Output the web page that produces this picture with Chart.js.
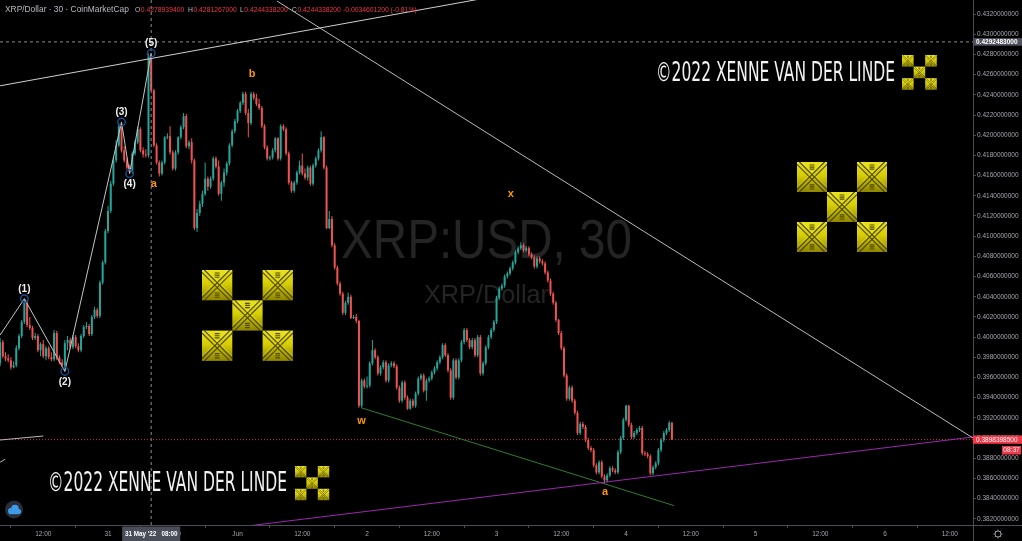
<!DOCTYPE html>
<html><head><meta charset="utf-8">
<script src="https://cdn.jsdelivr.net/npm/chart.js@4.4.0/dist/chart.umd.min.js"></script>
<style>html,body{margin:0;padding:0;background:#000;overflow:hidden}</style>
</head><body><canvas id="c" width="1022" height="541"></canvas>
<script>
// ---------- data (30-minute candles from 30 May 04:00) ----------
const opens = [
0.3974,0.3995,0.3981,0.3979,0.3977,0.3970,0.3972,0.3989,0.4001,0.4015,
0.4034,0.4012,0.4009,0.3999,0.4001,0.3987,0.3993,0.3981,0.3989,0.3980,
0.3978,0.4004,0.3980,0.3975,0.3972,0.3994,0.3997,0.3990,0.4000,0.3991,
0.3987,0.4001,0.4010,0.4011,0.4003,0.4020,0.4027,0.4021,0.4054,0.4074,
0.4105,0.4125,0.4152,0.4175,0.4190,0.4209,0.4185,0.4175,0.4168,0.4164,
0.4182,0.4193,0.4206,0.4185,0.4181,0.4180,0.42789394,0.42443382,0.4190,0.4173,
0.4162,0.4173,0.4198,0.4199,0.4183,0.4167,0.4183,0.4198,0.4208,0.4219,
0.4189,0.4193,0.4175,0.4108,0.4123,0.4132,0.4142,0.4157,0.4149,0.4157,
0.4177,0.4169,0.4142,0.4153,0.4163,0.4172,0.4190,0.4204,0.4214,0.4224,
0.4232,0.4241,0.4222,0.4212,0.4241,0.4237,0.4231,0.4227,0.4209,0.4188,
0.4177,0.4178,0.4185,0.4197,0.4177,0.4209,0.4206,0.4182,0.4153,0.4145,
0.4153,0.4163,0.4170,0.4162,0.4158,0.4168,0.4152,0.4170,0.4177,0.4185,
0.4198,0.4168,0.4108,0.4117,0.4091,0.4069,0.4053,0.4043,0.4024,0.4034,
0.4040,0.4019,0.4020,0.4016,0.3932,0.3957,0.3951,0.3952,0.3974,0.3987,
0.3980,0.3964,0.3970,0.3975,0.3957,0.3972,0.3974,0.3971,0.3950,0.3937,
0.3955,0.3940,0.3929,0.3937,0.3932,0.3944,0.3959,0.3962,0.3947,0.3957,
0.3959,0.3965,0.3969,0.3975,0.3980,0.3992,0.3982,0.3967,0.3940,0.3977,
0.3960,0.3977,0.3995,0.4007,0.3997,0.3990,0.3997,0.3982,0.4000,0.3964,
0.3974,0.3990,0.4000,0.4007,0.4015,0.4039,0.4048,0.4051,0.4060,0.4063,
0.4068,0.4074,0.4084,0.4088,0.4091,0.4086,0.4088,0.4082,0.4079,0.4070,
0.4078,0.4075,0.4073,0.4064,0.4056,0.4043,0.4034,0.4017,0.4004,0.3989,
0.3962,0.3939,0.3950,0.3937,0.3925,0.3905,0.3914,0.3911,0.3898,0.3890,
0.3888,0.3873,0.3866,0.3876,0.3862,0.3858,0.3863,0.3870,0.3868,0.3866,
0.3886,0.3900,0.3918,0.3932,0.3913,0.3901,0.3905,0.3908,0.3910,0.3885,
0.3884,0.3882,0.3865,0.3871,0.3875,0.3888,0.3898,0.3905,0.3908,0.3915];
const highs = [
0.3999,0.3997,0.3985,0.3983,0.3980,0.3976,0.3992,0.4003,0.4017,0.4038,
0.4036,0.4020,0.4011,0.4004,0.4003,0.3995,0.3997,0.3991,0.3991,0.3985,
0.4007,0.4006,0.3982,0.3978,0.3997,0.4001,0.3999,0.4002,0.4002,0.3994,
0.4003,0.4012,0.4015,0.4013,0.4022,0.4030,0.4029,0.4056,0.4076,0.4107,
0.4130,0.4155,0.4178,0.4195,0.4212,0.4213,0.4189,0.4178,0.4171,0.4184,
0.4195,0.4209,0.4208,0.4188,0.4186,0.4281,0.4281267,0.4246,0.4192,0.4175,
0.4175,0.4199,0.4202,0.4209,0.4185,0.4185,0.4199,0.4210,0.4222,0.4221,
0.4195,0.4197,0.4177,0.4127,0.4135,0.4145,0.4173,0.4159,0.4159,0.4179,
0.4179,0.4175,0.4155,0.4167,0.4174,0.4192,0.4206,0.4216,0.4226,0.4234,
0.4243,0.4243,0.4226,0.4243,0.4243,0.4241,0.4236,0.4229,0.4211,0.4190,
0.4180,0.4187,0.4198,0.4198,0.4211,0.4211,0.4208,0.4184,0.4155,0.4155,
0.4165,0.4175,0.4182,0.4167,0.4170,0.4170,0.4172,0.4179,0.4187,0.4204,
0.4199,0.4170,0.4125,0.4120,0.4093,0.4071,0.4055,0.4045,0.4036,0.4044,
0.4042,0.4022,0.4023,0.4017,0.3959,0.3959,0.3961,0.3976,0.3997,0.3989,
0.3982,0.3972,0.3977,0.3977,0.3974,0.3976,0.3976,0.3973,0.3952,0.3957,
0.3957,0.3942,0.3939,0.3939,0.3946,0.3961,0.3964,0.3964,0.3959,0.3961,
0.3967,0.3971,0.3977,0.3982,0.3994,0.3994,0.3984,0.3969,0.3979,0.3979,
0.3979,0.3997,0.4009,0.4009,0.3999,0.3999,0.3999,0.4002,0.4002,0.3976,
0.3992,0.4002,0.4009,0.4017,0.4041,0.4050,0.4053,0.4062,0.4065,0.4070,
0.4076,0.4086,0.4090,0.4094,0.4093,0.4090,0.4090,0.4084,0.4081,0.4080,
0.4080,0.4077,0.4075,0.4066,0.4058,0.4045,0.4036,0.4018,0.4006,0.3991,
0.3964,0.3952,0.3952,0.3939,0.3927,0.3916,0.3916,0.3913,0.3900,0.3892,
0.3890,0.3875,0.3878,0.3878,0.3864,0.3865,0.3872,0.3872,0.3870,0.3888,
0.3902,0.3920,0.3933,0.3933,0.3915,0.3907,0.3910,0.3912,0.3912,0.3887,
0.3886,0.3884,0.3873,0.3877,0.3890,0.3900,0.3907,0.3910,0.3917,0.3916];
const lows = [
0.3971,0.3979,0.3976,0.3975,0.3968,0.3969,0.3970,0.3987,0.3999,0.4013,
0.4010,0.4007,0.3997,0.3997,0.3985,0.3981,0.3979,0.3977,0.3978,0.3976,
0.3976,0.3977,0.3973,0.3970,0.3966,0.3987,0.3988,0.3988,0.3989,0.3985,
0.3985,0.3999,0.4008,0.4001,0.4001,0.4018,0.4019,0.4019,0.4052,0.4072,
0.4103,0.4123,0.4150,0.4173,0.4188,0.4183,0.4173,0.4166,0.4162,0.4162,
0.4180,0.4191,0.4183,0.4178,0.4178,0.4178,0.42443382,0.4188,0.4171,0.4159,
0.4160,0.4171,0.4196,0.4181,0.4165,0.4165,0.4181,0.4196,0.4206,0.4187,
0.4186,0.4172,0.4106,0.4104,0.4120,0.4129,0.4140,0.4145,0.4147,0.4155,
0.4167,0.4140,0.4135,0.4149,0.4160,0.4170,0.4188,0.4202,0.4212,0.4222,
0.4230,0.4220,0.4198,0.4210,0.4235,0.4229,0.4225,0.4207,0.4186,0.4175,
0.4175,0.4176,0.4183,0.4175,0.4175,0.4204,0.4180,0.4151,0.4143,0.4143,
0.4151,0.4161,0.4160,0.4156,0.4155,0.4150,0.4150,0.4168,0.4175,0.4183,
0.4166,0.4107,0.4107,0.4089,0.4067,0.4051,0.4041,0.4022,0.4022,0.4032,
0.4018,0.4018,0.4014,0.3930,0.3930,0.3949,0.3949,0.3950,0.3972,0.3978,
0.3962,0.3962,0.3968,0.3955,0.3955,0.3970,0.3969,0.3948,0.3935,0.3935,
0.3938,0.3928,0.3928,0.3930,0.3930,0.3942,0.3957,0.3945,0.3937,0.3955,
0.3957,0.3963,0.3967,0.3973,0.3978,0.3980,0.3965,0.3938,0.3938,0.3958,
0.3958,0.3975,0.3993,0.3995,0.3988,0.3988,0.3980,0.3980,0.3962,0.3962,
0.3972,0.3988,0.3998,0.4005,0.4013,0.4037,0.4046,0.4049,0.4058,0.4061,
0.4066,0.4072,0.4082,0.4086,0.4084,0.4084,0.4080,0.4077,0.4068,0.4068,
0.4073,0.4071,0.4062,0.4054,0.4041,0.4032,0.4015,0.4002,0.3987,0.3960,
0.3937,0.3937,0.3935,0.3923,0.3903,0.3903,0.3909,0.3896,0.3888,0.3886,
0.3871,0.3864,0.3864,0.3860,0.3855,0.3856,0.3861,0.3866,0.3864,0.3864,
0.3884,0.3898,0.3916,0.3911,0.3899,0.3899,0.3903,0.3906,0.3883,0.3882,
0.3880,0.3863,0.3863,0.3869,0.3873,0.3886,0.3896,0.3903,0.3906,0.3898];
const closes = [
0.3995,0.3981,0.3979,0.3977,0.3970,0.3972,0.3989,0.4001,0.4015,0.4034,
0.4012,0.4009,0.3999,0.4001,0.3987,0.3993,0.3981,0.3989,0.3980,0.3978,
0.4004,0.3980,0.3975,0.3972,0.3994,0.3997,0.3990,0.4000,0.3991,0.3987,
0.4001,0.4010,0.4011,0.4003,0.4020,0.4027,0.4021,0.4054,0.4074,0.4105,
0.4125,0.4152,0.4175,0.4190,0.4209,0.4185,0.4175,0.4168,0.4164,0.4182,
0.4193,0.4206,0.4185,0.4181,0.4180,0.4279,0.42443382,0.4190,0.4173,0.4162,
0.4173,0.4198,0.4199,0.4183,0.4167,0.4183,0.4198,0.4208,0.4219,0.4189,
0.4193,0.4175,0.4108,0.4123,0.4132,0.4142,0.4157,0.4149,0.4157,0.4177,
0.4169,0.4142,0.4153,0.4163,0.4172,0.4190,0.4204,0.4214,0.4224,0.4232,
0.4241,0.4222,0.4212,0.4241,0.4237,0.4231,0.4227,0.4209,0.4188,0.4177,
0.4178,0.4185,0.4197,0.4177,0.4209,0.4206,0.4182,0.4153,0.4145,0.4153,
0.4163,0.4170,0.4162,0.4158,0.4168,0.4152,0.4170,0.4177,0.4185,0.4198,
0.4168,0.4108,0.4117,0.4091,0.4069,0.4053,0.4043,0.4024,0.4034,0.4040,
0.4019,0.4020,0.4016,0.3932,0.3957,0.3951,0.3952,0.3974,0.3987,0.3980,
0.3964,0.3970,0.3975,0.3957,0.3972,0.3974,0.3971,0.3950,0.3937,0.3955,
0.3940,0.3929,0.3937,0.3932,0.3944,0.3959,0.3962,0.3947,0.3957,0.3959,
0.3965,0.3969,0.3975,0.3980,0.3992,0.3982,0.3967,0.3940,0.3977,0.3960,
0.3977,0.3995,0.4007,0.3997,0.3990,0.3997,0.3982,0.4000,0.3964,0.3974,
0.3990,0.4000,0.4007,0.4015,0.4039,0.4048,0.4051,0.4060,0.4063,0.4068,
0.4074,0.4084,0.4088,0.4091,0.4086,0.4088,0.4082,0.4079,0.4070,0.4078,
0.4075,0.4073,0.4064,0.4056,0.4043,0.4034,0.4017,0.4004,0.3989,0.3962,
0.3939,0.3950,0.3937,0.3925,0.3905,0.3914,0.3911,0.3898,0.3890,0.3888,
0.3873,0.3866,0.3876,0.3862,0.3858,0.3863,0.3870,0.3868,0.3866,0.3886,
0.3900,0.3918,0.3932,0.3913,0.3901,0.3905,0.3908,0.3910,0.3885,0.3884,
0.3882,0.3865,0.3871,0.3875,0.3888,0.3898,0.3905,0.3908,0.3915,0.38983985];

// time axis: slot index (30 min each); labels at these slots
const xTickSlots  = [16,40,64,88,112,136,160,184,208,232,256,280,304,328,352];
const xTickLabels = ['12:00','31','12:00','Jun','12:00','2','12:00','3','12:00','4','12:00','5','12:00','6','12:00'];
const yTickValues = [0.382,0.384,0.386,0.388,0.390,0.392,0.394,0.396,0.398,0.400,0.402,0.404,0.406,0.408,0.410,0.412,0.414,0.416,0.418,0.420,0.422,0.424,0.426,0.428,0.430,0.432];
const xMin = -0.04, xMax = 360.6, yMin = 0.38138, yMax = 0.43340;

// drawings
const waveSlots  = [0, 9, 24, 45, 48, 56];
const wavePrices = [0.4002, 0.4038, 0.3966, 0.4213, 0.4162, 0.4281267];
const waveNames  = ['', '(1)', '(2)', '(3)', '(4)', '(5)'];
const waveAbove  = [true, true, false, true, false, true];
const upperLineSlots = [0, 180],       upperLinePrices = [0.4249, 0.4336];
const fallLineSlots  = [102.6, 360.6], fallLinePrices  = [0.4333, 0.3900];
const purpleSlots    = [80, 360.6],    purplePrices    = [0.3809, 0.3901];
const greenSlots     = [133.8, 249.8], greenPrices     = [0.3930, 0.3833];
const stubASlots = [0, 16],  stubAPrices = [0.3898, 0.3902];
const stubBSlots = [0, 1.9], stubBPrices = [0.3876, 0.3879];
const letterNames  = ['a', 'b', 'x', 'w', 'a'];
const letterSlots  = [57, 93.4, 189.3, 134, 224.2];
const letterPrices = [0.41515, 0.4261, 0.4142, 0.3917, 0.3847];
const lastPrice = 0.38983985, crossPrice = 0.4292483, crossSlot = 56;
const crossTimeLabel = "31 May '22   08:00";
const countdown = '08:37';
const titleText = 'XRP/Dollar · 30 · CoinMarketCap';
const ohlcNames  = ['O', 'H', 'L', 'C'];
const ohlcTexts  = ['0.4278939400', '0.4281267000', '0.4244338200', '0.4244338200'];
const changeText = '-0.0034601200 (-0.81%)';
const watermarkMain = 'XRP:USD, 30', watermarkSub = 'XRP/Dollar';
const copyrightText = '\u00A92022 XENNE VAN DER LINDE';

// ---------- chart ----------
const TEAL = '#26a69a', RED = '#ef5350';
const FONT = '"Liberation Sans", Arial, sans-serif';
const candleColors = closes.map((c, i) => c >= opens[i] ? TEAL : RED);
const pts = (xs, ys) => xs.map((x, i) => ({x, y: ys[i]}));
const lineDS = (xs, ys, color, extra) => Object.assign({type:'line', data: pts(xs, ys), borderColor: color, borderWidth: 1,
  pointRadius: 0, tension: 0, fill: false, order: 0}, extra || {});

function fitText(c, text, x, base, size, width, align, weight, family) {
  c.font = (weight || 'normal') + ' ' + size + 'px ' + (family || FONT);
  const w = c.measureText(text).width;
  c.save(); c.translate(x, base); c.scale(width / w, 1); c.textAlign = align; c.textBaseline = 'alphabetic';
  c.fillText(text, 0, 0); c.restore();
}
function logoTile(c, x, y, s) {
  const g = c.createLinearGradient(x, y, x, y + s);
  g.addColorStop(0, '#e9e21e'); g.addColorStop(0.45, '#d6cd05'); g.addColorStop(1, '#8e8500');
  c.fillStyle = g; c.fillRect(x, y, s, s);
  c.strokeStyle = 'rgba(70,62,0,0.9)'; c.lineWidth = Math.max(0.5, s / 26);
  const o = s * 0.08;
  c.beginPath();
  c.moveTo(x + o, y); c.lineTo(x + s, y + s - o);
  c.moveTo(x, y + o); c.lineTo(x + s - o, y + s);
  c.moveTo(x + s - o, y); c.lineTo(x, y + s - o);
  c.moveTo(x + s, y + o); c.lineTo(x + o, y + s);
  for (let k = 0; k < 3; k++) {
    const a = y + s * 0.1 + k * s * 0.07, b = y + s * 0.76 + k * s * 0.07;
    c.moveTo(x + s * 0.42, a); c.lineTo(x + s * 0.58, a);
    c.moveTo(x + s * 0.42, b); c.lineTo(x + s * 0.58, b);
  }
  c.stroke();
  c.strokeStyle = 'rgba(255,250,150,0.45)'; c.lineWidth = 0.6;
  c.beginPath(); c.moveTo(x + o * 2, y); c.lineTo(x + s, y + s - o * 2); c.moveTo(x + s - o * 2, y); c.lineTo(x, y + s - o * 2); c.stroke();
}
function logo(c, x, y, s) {
  [[0,0],[2,0],[1,1],[0,2],[2,2]].forEach(([i, j]) => logoTile(c, x + i * s, y + j * s, s));
}

const deco = {
  id: 'deco',
  beforeDraw(chart) {
    const c = chart.ctx; c.save(); c.fillStyle = '#000'; c.fillRect(0, 0, chart.width, chart.height); c.restore();
  },
  beforeDatasetsDraw(chart) {
    const c = chart.ctx, a = chart.chartArea, cx = (a.left + a.right) / 2;
    c.save(); c.fillStyle = '#242424';
    fitText(c, watermarkMain, cx, 257.5, 56, 291, 'center');
    fitText(c, watermarkSub, cx, 302.5, 25.5, 125, 'center');
    c.restore();
  },
  afterDatasetsDraw(chart) {
    const c = chart.ctx, xs = chart.scales.x, ys = chart.scales.y;
    c.save();
    // logos
    logo(c, 797, 162, 30); logo(c, 202, 270, 30.3); logo(c, 902, 55, 11.6); logo(c, 295, 466, 11.4);
    // copyright texts
    c.fillStyle = '#f2f2f2';
    fitText(c, copyrightText, 656, 80.5, 27, 239, 'left', 'normal', '"Liberation Sans Narrow","DejaVu Sans Condensed",' + FONT);
    fitText(c, copyrightText, 48, 490.8, 27, 239, 'left', 'normal', '"Liberation Sans Narrow","DejaVu Sans Condensed",' + FONT);
    // wave circles + labels
    c.font = 'bold 10px ' + FONT; c.textAlign = 'center'; c.textBaseline = 'middle';
    for (let i = 1; i < waveSlots.length; i++) {
      const px = xs.getPixelForValue(waveSlots[i]), py = ys.getPixelForValue(wavePrices[i]);
      c.strokeStyle = '#1d4e8f'; c.lineWidth = 1.4;
      c.beginPath(); c.arc(px, py, 3.8, 0, Math.PI * 2); c.stroke();
      c.fillStyle = '#f0f0f0';
      c.fillText(waveNames[i], px, waveAbove[i] ? py - 9.5 : py + 10.5);
    }
    // letter labels
    c.font = 'bold 11px ' + FONT; c.fillStyle = '#ff9800';
    letterNames.forEach((t, i) => c.fillText(t, xs.getPixelForValue(letterSlots[i]), ys.getPixelForValue(letterPrices[i])));
    // header
    c.textAlign = 'left'; c.textBaseline = 'alphabetic';
    c.fillStyle = '#b8bbc3'; c.font = '8.4px ' + FONT; c.fillText(titleText, 5, 12.3);
    const hx = [135, 188, 240, 292];
    c.font = '6.8px ' + FONT;
    ohlcNames.forEach((n, i) => {
      c.fillStyle = '#b8bbc3'; c.fillText(n, hx[i], 12);
      const w = c.measureText(n).width;
      c.fillStyle = '#f23645'; c.fillText(ohlcTexts[i], hx[i] + w + 0.5, 12);
    });
    c.fillText(changeText, 343, 12);
    c.restore();
  },
  afterDraw(chart) {
    const c = chart.ctx, xs = chart.scales.x, ys = chart.scales.y, a = chart.chartArea;
    c.save();
    c.textBaseline = 'middle';
    // crosshair price label
    let y = ys.getPixelForValue(crossPrice);
    c.fillStyle = '#50535e'; c.fillRect(a.right, y - 3.8, 49, 7.6);
    c.fillStyle = '#ffffff'; c.font = 'bold 6.5px ' + FONT; c.textAlign = 'left'; c.fillText(crossPrice.toFixed(10), a.right + 3, y + 0.3);
    // last price label + countdown
    y = ys.getPixelForValue(lastPrice);
    c.fillStyle = '#f23645'; c.fillRect(a.right, y - 4.2, 49, 8.4);
    c.fillRect(1002, y + 6.3, 19, 8.6);
    c.fillStyle = '#ffffff'; c.font = '6.5px ' + FONT;
    c.fillText(lastPrice.toFixed(10), a.right + 3, y + 0.3);
    c.textAlign = 'center'; c.fillText(countdown, 1011.5, y + 10.7);
    // crosshair time label
    const x = xs.getPixelForValue(crossSlot);
    c.fillStyle = '#4a4e59'; c.fillRect(x - 29, a.bottom + 1.5, 58, 14.5);
    c.fillStyle = '#ffffff'; c.font = 'bold 6.3px ' + FONT; c.fillText(crossTimeLabel, x, a.bottom + 9);
    // axis corner lines
    c.strokeStyle = '#4a4d55'; c.lineWidth = 1;
    c.beginPath(); c.moveTo(a.right + 0.5, a.bottom); c.lineTo(a.right + 0.5, 541);
    c.moveTo(a.right, a.bottom + 0.5); c.lineTo(1022, a.bottom + 0.5); c.stroke();
    // gear icon
    c.strokeStyle = '#9598a1'; c.lineWidth = 1;
    c.beginPath(); c.arc(998, 534, 3, 0, Math.PI * 2); c.stroke();
    c.beginPath();
    for (let k = 0; k < 8; k++) { const t = k * Math.PI / 4; c.moveTo(998 + 3 * Math.cos(t), 534 + 3 * Math.sin(t)); c.lineTo(998 + 4.5 * Math.cos(t), 534 + 4.5 * Math.sin(t)); }
    c.stroke();
    // cloud button
    c.fillStyle = '#2a2e39'; c.beginPath(); c.arc(14, 509.5, 9, 0, Math.PI * 2); c.fill();
    c.fillStyle = '#3d9be9';
    c.beginPath(); c.arc(11, 511, 3, 0, Math.PI * 2); c.arc(15, 508.5, 3.8, 0, Math.PI * 2); c.arc(18.5, 511.5, 2.6, 0, Math.PI * 2); c.fill();
    c.fillRect(9, 511, 10, 3.2);
    c.restore();
  }
};

new Chart(document.getElementById('c'), {
  type: 'bar',
  data: {
    datasets: [
      lineDS(waveSlots, wavePrices, '#c4c4c4'),
      lineDS(upperLineSlots, upperLinePrices, '#cfcfcf'),
      lineDS(fallLineSlots, fallLinePrices, '#b9b9b9'),
      lineDS(purpleSlots, purplePrices, '#9c27b0'),
      lineDS(greenSlots, greenPrices, '#2e7d32'),
      lineDS(stubASlots, stubAPrices, '#b9b9b9'),
      lineDS(stubBSlots, stubBPrices, '#b9b9b9'),
      lineDS([xMin, xMax], [lastPrice, lastPrice], 'rgba(242,54,69,0.85)', {borderDash: [1, 2], order: 1}),
      lineDS([xMin, xMax], [crossPrice, crossPrice], '#8a8d95', {borderDash: [3, 3], order: 1}),
      lineDS([crossSlot, crossSlot], [yMin, yMax], '#8a8d95', {borderDash: [3, 3], order: 1}),
      {type: 'bar', label: 'bodies', data: closes.map((c, i) => ({x: i, y: [opens[i], c]})),
        backgroundColor: candleColors, barThickness: 2, minBarLength: 1, grouped: false, inflateAmount: 0, order: 2},
      {type: 'bar', label: 'wicks', data: closes.map((c, i) => ({x: i, y: [lows[i], highs[i]]})),
        backgroundColor: candleColors, barThickness: 1, grouped: false, inflateAmount: 0, order: 3}
    ]
  },
  options: {
    responsive: false, animation: false, devicePixelRatio: 1, events: [],
    layout: {padding: 0, autoPadding: false},
    plugins: {legend: {display: false}, tooltip: {enabled: false}},
    scales: {
      x: {
        type: 'linear', min: xMin, max: xMax, offset: false,
        grid: {display: true, drawOnChartArea: false, drawTicks: true, tickLength: 3, color: '#4a4d55'},
        border: {display: true, color: '#4a4d55'},
        ticks: {autoSkip: false, maxRotation: 0, color: '#a3a6af', font: {size: 6.5, family: FONT}, padding: 2,
          callback: (v, i) => xTickLabels[i]},
        afterBuildTicks: s => { s.ticks = xTickSlots.map(v => ({value: v})); },
        afterFit: s => { s.height = 16; s.paddingLeft = 0; s.paddingRight = 0; }
      },
      y: {
        type: 'linear', position: 'right', min: yMin, max: yMax,
        grid: {display: true, drawOnChartArea: false, drawTicks: true, tickLength: 3, color: '#4a4d55'},
        border: {display: true, color: '#4a4d55'},
        ticks: {color: '#a3a6af', font: {size: 6.5, family: FONT}, padding: 1, callback: v => v.toFixed(10)},
        afterBuildTicks: s => { s.ticks = yTickValues.map(v => ({value: v})); },
        afterFit: s => { s.width = 49; s.paddingTop = 0; s.paddingBottom = 0; }
      }
    }
  },
  plugins: [deco]
});
</script></body></html>
